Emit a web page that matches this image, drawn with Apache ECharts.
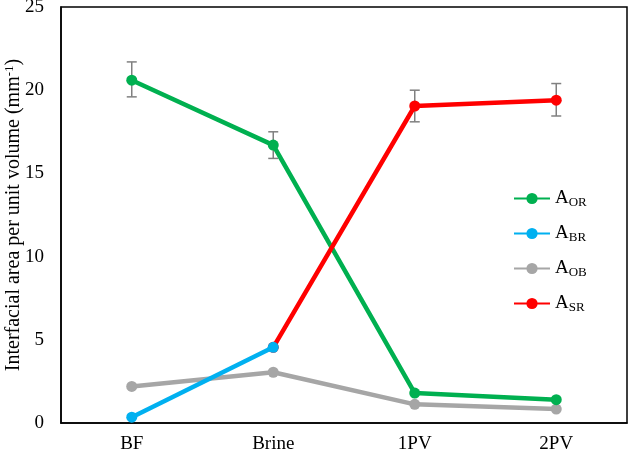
<!DOCTYPE html>
<html>
<head>
<meta charset="utf-8">
<script src="https://cdn.jsdelivr.net/npm/echarts@6/dist/echarts.min.js"></script>
<style>
  html, body { margin: 0; padding: 0; background: #fff; }
  #main { width: 628px; height: 453px; }
</style>
</head>
<body>
<div id="main"></div>
<script>
var categories = ['BF', 'Brine', '1PV', '2PV'];
var aOR = [20.6, 16.7, 1.8, 1.4];
var aBR = [0.35, 4.55, null, null];
var aOB = [2.2, 3.05, 1.12, 0.84];
var aSR = [null, 4.55, 19.05, 19.4];
// error bars: [category index, low, high]
var errOR = [[0, 19.6, 21.7], [1, 15.9, 17.5]];
var errSR = [[2, 18.1, 20.0], [3, 18.45, 20.4]];

var font = 'Liberation Serif';
var myChart = echarts.init(document.getElementById('main'));

function errorBar(params, api) {
  var x = api.value(0);
  var lo = api.coord([x, api.value(1)]);
  var hi = api.coord([x, api.value(2)]);
  var w = 5;
  var st = { stroke: '#808080', lineWidth: 1.5 };
  return {
    type: 'group',
    children: [
      { type: 'line', shape: { x1: lo[0], y1: lo[1], x2: hi[0], y2: hi[1] }, style: st },
      { type: 'line', shape: { x1: lo[0] - w, y1: lo[1], x2: lo[0] + w, y2: lo[1] }, style: st },
      { type: 'line', shape: { x1: hi[0] - w, y1: hi[1], x2: hi[0] + w, y2: hi[1] }, style: st }
    ]
  };
}

function lineSeries(name, data, color, z) {
  return {
    name: name,
    type: 'line',
    data: data,
    z: z,
    symbol: 'circle',
    symbolSize: 11,
    lineStyle: { color: color, width: 4.5 },
    itemStyle: { color: color },
    connectNulls: false
  };
}

var option = {
  animation: false,
  textStyle: { fontFamily: font },
  grid: {
    left: 61, right: 1, top: 7, bottom: 30,
    outerBoundsMode: 'none', containLabel: false,
    show: true, borderColor: '#000', borderWidth: 1.5
  },
  legend: {
    orient: 'vertical',
    left: 508,
    top: 184,
    itemWidth: 36,
    itemHeight: 14,
    itemGap: 15,
    data: ['OR', 'BR', 'OB', 'SR'],
    formatter: function (n) { return '{a|A}{s|' + n + '}'; },
    textStyle: {
      rich: {
        a: { fontFamily: font, fontSize: 19, color: '#000' },
        s: { fontFamily: font, fontSize: 13, color: '#000', padding: [8, 0, 0, 0] }
      }
    }
  },
  xAxis: {
    type: 'category',
    data: categories,
    axisLine: { lineStyle: { color: '#000', width: 1.5 } },
    axisTick: { show: false },
    axisLabel: { color: '#000', fontFamily: font, fontSize: 19, margin: 12 }
  },
  yAxis: {
    type: 'value',
    min: 0,
    max: 25,
    interval: 5,
    name: 'Interfacial area per unit volume (mm{sup|-1})',
    nameLocation: 'middle',
    nameGap: 36,
    nameMoveOverlap: false,
    nameTextStyle: {
      color: '#000', fontFamily: font, fontSize: 20,
      rich: { sup: { fontFamily: font, fontSize: 13, color: '#000', padding: [0, 0, 9, 0] } }
    },
    splitLine: { show: false },
    axisLine: { show: true, lineStyle: { color: '#000', width: 1.5 } },
    axisTick: { show: false },
    axisLabel: { color: '#000', fontFamily: font, fontSize: 19, margin: 17 }
  },
  series: [
    lineSeries('OR', aOR, '#00b050', 3),
    lineSeries('BR', aBR, '#00b0f0', 5),
    lineSeries('OB', aOB, '#a6a6a6', 2),
    lineSeries('SR', aSR, '#ff0000', 4),
    { type: 'custom', renderItem: errorBar, data: errOR, z: 1, silent: true },
    { type: 'custom', renderItem: errorBar, data: errSR, z: 1, silent: true }
  ]
};

myChart.setOption(option);
</script>
</body>
</html>
